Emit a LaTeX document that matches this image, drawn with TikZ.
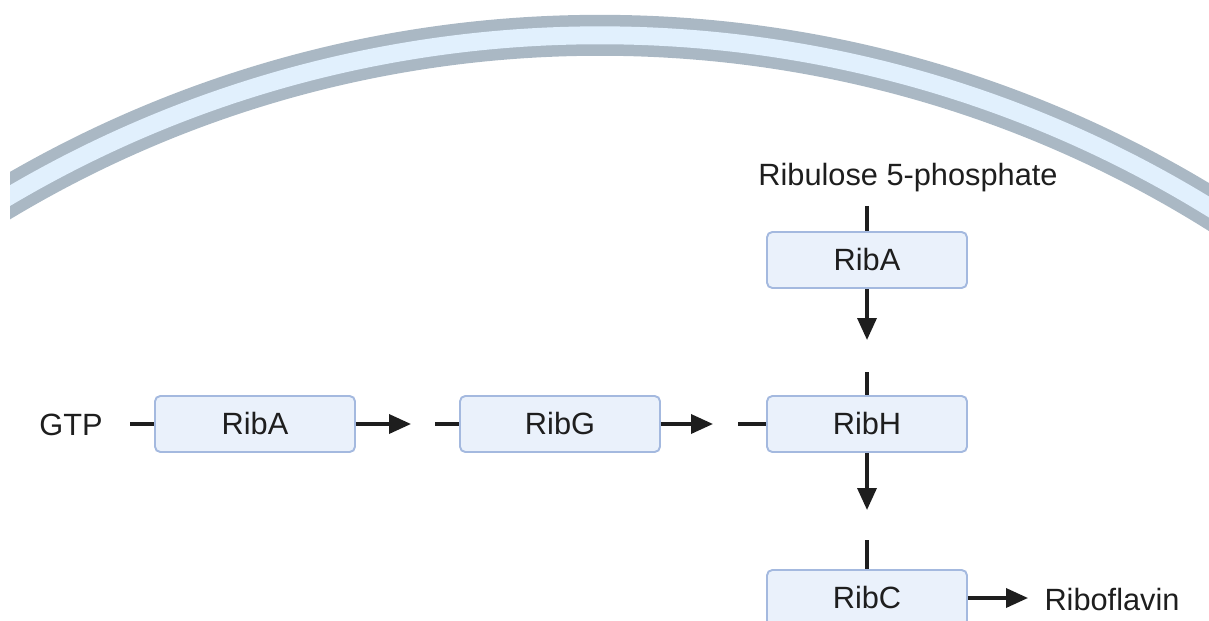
\documentclass[tikz,border=0pt]{standalone}
\usepackage{fontspec}
\setmainfont{Liberation Sans}
\usetikzlibrary{arrows.meta}
\definecolor{membgray}{HTML}{AAB8C4}
\definecolor{membblue}{HTML}{E1F0FD}
\definecolor{enzfill}{HTML}{EAF1FB}
\definecolor{enzline}{HTML}{A4B9DF}
\definecolor{ink}{HTML}{1E1E1E}
\tikzset{
  enzyme/.style={draw=enzline, fill=enzfill, line width=1.1pt, rounded corners=3pt,
    minimum width=4cm, minimum height=1.12cm, inner sep=0pt, text=ink,
    font=\fontsize{17.5}{20}\selectfont},
  metab/.style={inner sep=0pt, text=ink, font=\fontsize{17.5}{20}\selectfont},
  flow/.style={ink, line width=2pt},
  flowarr/.style={flow, -{Triangle[length=0.44cm,width=0.38cm]}}
}

\begin{document}
\begin{tikzpicture}[x=0.02cm, y=-0.02cm]
\useasboundingbox (0,0) rectangle (1209,621);
\begin{scope}
\clip (10,0) rectangle (1209,621);
\draw[membgray, line width=23.3pt] (600,1200) circle (1164.7);
\draw[membblue, line width=10.2pt] (600,1200) circle (1164.7);
\end{scope}

\node[metab] (ru5p) at (908,178) {Ribulose 5-phosphate};
\node[metab] (gtp) at (71,425) {GTP};
\node[metab] (rf) at (1112,600) {Riboflavin};

\node[enzyme] (ribAtop) at (867,260) {RibA};
\node[enzyme] (ribA) at (255,424) {RibA};
\node[enzyme] (ribG) at (560,424) {RibG};
\node[enzyme] (ribH) at (867,424) {RibH};
\node[enzyme] (ribC) at (867,598) {RibC};

\coordinate (s1) at (867,206);
\coordinate (t1) at (867,340);
\coordinate (s2) at (867,372);
\coordinate (t2) at (867,510);
\coordinate (s3) at (867,540);
\coordinate (s4) at (130,424);
\coordinate (t4) at (411,424);
\coordinate (s5) at (435,424);
\coordinate (t5) at (713,424);
\coordinate (s6) at (738,424);
\coordinate (t6) at (1028,598);

\draw[flow] (s1) -- (ribAtop.north);
\draw[flowarr] (ribAtop.south) -- (t1);
\draw[flow] (s2) -- (ribH.north);
\draw[flowarr] (ribH.south) -- (t2);
\draw[flow] (s3) -- (ribC.north);
\draw[flow] (s4) -- (ribA.west);
\draw[flowarr] (ribA.east) -- (t4);
\draw[flow] (s5) -- (ribG.west);
\draw[flowarr] (ribG.east) -- (t5);
\draw[flow] (s6) -- (ribH.west);
\draw[flowarr] (ribC.east) -- (t6);
\end{tikzpicture}
\end{document}
